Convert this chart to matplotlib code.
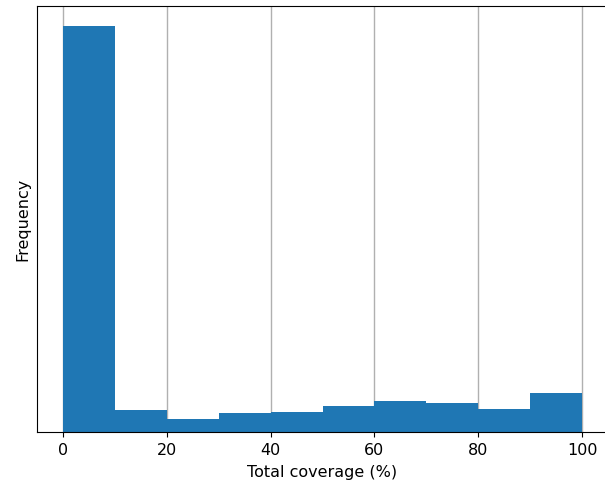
import matplotlib
matplotlib.use("Agg")
import matplotlib.pyplot as plt
import numpy as np

# Histogram bin edges (percent) and counts per bin
bin_edges = [0, 10, 20, 30, 40, 50, 60, 70, 80, 90, 100]
bin_counts = [811, 43, 25, 37, 39, 51, 61, 57, 45, 77]
x_ticks = [0, 20, 40, 60, 80, 100]

plt.rcParams["font.size"] = 11.5

fig = plt.figure(figsize=(6.05, 4.89), dpi=100)
ax = fig.add_axes([0.0612, 0.1145, 0.9438, 0.8720])

centers = np.array(bin_edges[:-1]) + 5
ax.hist(centers, bins=bin_edges, weights=bin_counts, color="#1f77b4", zorder=2)

ax.set_xticks(x_ticks)
ax.set_yticks([])
ax.set_xlim(-5, 105)
ax.grid(axis="x", color="#b0b0b0", linewidth=1.0, zorder=0)
ax.set_axisbelow(True)
ax.set_xlabel("Total coverage (%)", labelpad=5)
ax.set_ylabel("Frequency", labelpad=5)

fig.savefig("out.png", dpi=100)
